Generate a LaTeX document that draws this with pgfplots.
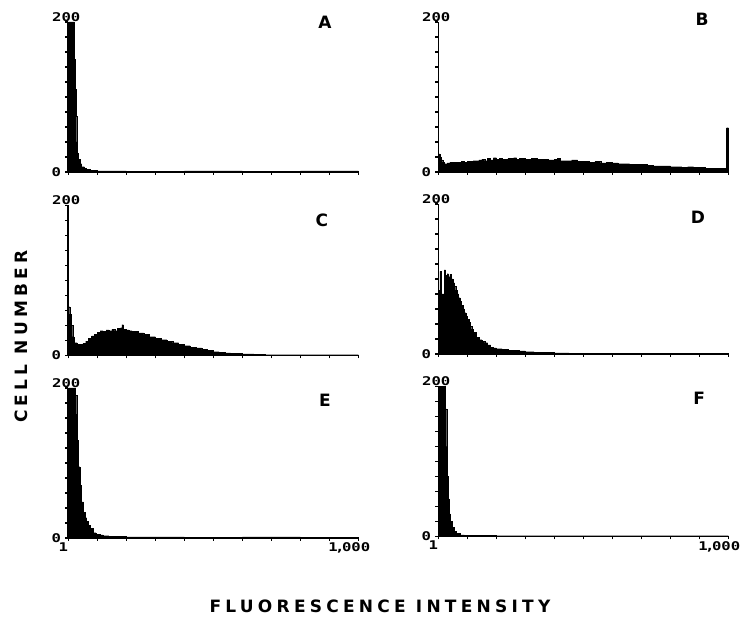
\documentclass[border=0pt]{standalone}
\usepackage{fontspec}
\setmainfont{DejaVu Sans}
\newfontfamily\monofont{DejaVu Sans Mono}
\newfontfamily\lblfont{DejaVu Sans}[LetterSpace=25]
\usepackage{pgfplots}
\pgfplotsset{compat=1.18}

% dot-matrix style tick numbers
\newcommand{\tl}[1]{\scalebox{1.3}[1]{\monofont\bfseries\fontsize{12}{13}\selectfont #1}}

\pgfplotsset{
  panel/.style={
    scale only axis, width=290pt, height=150pt,
    anchor=south west,
    xmin=0, xmax=100, ymin=0, ymax=200,
    axis x line*=bottom, axis y line*=left,
    axis line style={line width=1.6pt},
    xtick={0,10,...,100}, ytick={0,20,...,200},
    xticklabels={}, yticklabels={},
    tick style={black, line width=1.1pt},
    major tick length=3pt,
    tick align=outside,
    clip=false,
  },
  hist/.style={const plot, fill=black, draw=black, line width=0.3pt},
}
\tikzset{
  letter/.style={font=\bfseries\fontsize{17}{19}\selectfont, inner sep=0pt},
  top200/.style={anchor=south, inner sep=0.5pt, xshift=-2pt},
  bot0/.style={anchor=east, inner sep=0pt, xshift=-7pt},
  one/.style={anchor=north, inner sep=0pt, xshift=-5pt, yshift=-4.5pt},
  thou/.style={anchor=north, inner sep=0pt, xshift=-9pt, yshift=-4.5pt},
}

\begin{document}
\begin{tikzpicture}
\useasboundingbox (0,0) rectangle (742pt,621pt);

% ---- A ----
\begin{axis}[panel, at={(68.3pt,449pt)}]
\addplot[hist] table[header=false] {
0 200
0.5 200
1 200
1.5 200
2 150
2.3 110
2.6 75
2.9 40
3.2 25
3.5 17
4 11
4.6 7
5.5 5
6.3 3.5
7.5 2.5
8.6 2
10 1.5
20 1
40 1.5
60 1
80 1.5
100 1
} \closedcycle;
\node[letter] at (axis cs:88.5,200) {A};
\node[top200] at (axis cs:0,200) {\tl{200}};
\node[bot0] at (axis cs:0,0) {\tl{0}};
\end{axis}

% ---- B ----
\begin{axis}[panel, at={(438.3pt,449pt)}]
\addplot[hist] table[header=false] {
0 24
0.5 20
1 16
1.5 13
2 11
3 12
4 13
6 13
8 14
9 13
10 14
12 15
14 16
15 17
16 15
17 18
18 16
19 19
20 17
21 18
22 17
24 18
26 19
27 17
28 18
30 17
32 18
34 17
36 17
38 16
40 17
41 18
42 15
44 15
46 16
48 14
50 14
52 13
54 14
56 12
58 13
60 12
62 11
64 11
66 10
70 10
72 9
74 8
78 8
80 7
84 6
86 7
88 6
90 6
92 5
99.4 59
100 59
} \closedcycle;
\node[letter] at (axis cs:91,204) {B};
\node[top200] at (axis cs:0,200) {\tl{200}};
\node[bot0] at (axis cs:0,0) {\tl{0}};
\end{axis}

% ---- C ----
\begin{axis}[panel, at={(68.3pt,265.5pt)}]
\addplot[hist] table[header=false] {
0 65
0.5 55
1 40
1.5 25
2 17
3 15
5 16
6 19
7 23
8 26
9 28
10 31
11 33
12 32
13 34
14 33
15 35
16 33
17 36
18 37
18.5 41
19 35
20 34
21 33
22 32
24 30
26 28
28 25
30 23
32 21
34 19
36 17
38 15
40 13
42 11
44 10
46 8
48 7
50 5
52 4
54 3.5
56 3
58 2.5
60 2
64 1.5
68 1
100 1
} \closedcycle;
\node[letter] at (axis cs:87.4,180) {C};
\node[top200] at (axis cs:0,200) {\tl{200}};
\node[bot0] at (axis cs:0,0) {\tl{0}};
\end{axis}

% ---- D ----
\begin{axis}[panel, at={(438.3pt,267pt)}]
\addplot[hist] table[header=false] {
0 85
0.5 110
1 80
1.5 80
2 112
2.5 105
3 107
3.5 103
4 106
4.5 100
5 95
5.5 90
6 85
6.5 80
7 75
7.5 70
8 65
8.5 60
9 55
9.5 50
10 46
10.5 42
11 37
11.5 33
12 29
13 22
14 19
15 17
16 15
17 12
18 9
19 8
20 7
22 6
24 5
28 4
30 3
33 2.5
36 2
40 1.5
45 1
100 1
} \closedcycle;
\node[letter] at (axis cs:89.5,182) {D};
\node[top200] at (axis cs:0,200) {\tl{200}};
\node[bot0] at (axis cs:0,0) {\tl{0}};
\end{axis}

% ---- E ----
\begin{axis}[panel, at={(68.3pt,83pt)}]
\addplot[hist] table[header=false] {
0 200
1 200
2 200
2.5 190
2.9 165
3.2 130
3.5 95
4 70
4.6 48
5.2 34
5.8 27
6.3 22
6.9 17
7.5 13
8.6 7
9.5 5
10.9 4
12 3
14 2.5
17 2
20 1.5
40 1
60 1.5
80 1
100 1
} \closedcycle;
\node[letter] at (axis cs:88.5,183) {E};
\node[top200] at (axis cs:0,200) {\tl{200}};
\node[bot0] at (axis cs:0,0) {\tl{0}};
\node[one] at (axis cs:0,0) {\tl{1}};
\node[thou] at (axis cs:100,0) {\tl{1\kern-2pt,\kern-2pt000}};
\end{axis}

% ---- F ----
\begin{axis}[panel, at={(438.3pt,84.5pt)}]
\addplot[hist] table[header=false] {
0 200
1 200
2 200
2.3 170
2.9 120
3.2 80
3.5 50
3.8 30
4.2 20
4.8 12
5.5 7
6.3 4
7.5 2
9 1.5
20 1
100 1
} \closedcycle;
\node[letter] at (axis cs:90,184) {F};
\node[top200] at (axis cs:0,200) {\tl{200}};
\node[bot0] at (axis cs:0,0) {\tl{0}};
\node[one] at (axis cs:0,0) {\tl{1}};
\node[thou] at (axis cs:100,0) {\tl{1\kern-2pt,\kern-2pt000}};
\end{axis}

\node[rotate=90, font=\lblfont\bfseries\fontsize{17}{19}\selectfont, inner sep=0pt] at (21.5pt,284.5pt) {CELL NUMBER};
\node[font=\lblfont\bfseries\fontsize{17}{19}\selectfont, inner sep=0pt] at (380pt,15pt) {FLUORESCENCE INTENSITY};
\end{tikzpicture}
\end{document}
